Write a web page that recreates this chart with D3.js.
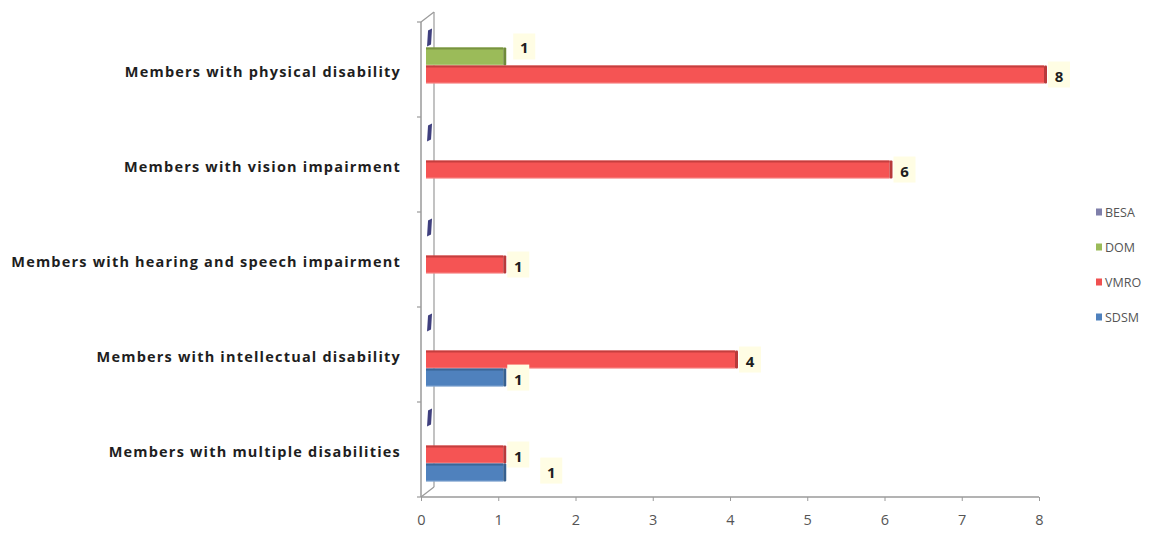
<!DOCTYPE html>
<html><head><meta charset="utf-8">
<script src="https://cdn.jsdelivr.net/npm/d3@7"></script>
<style>body{margin:0;background:#fff}svg{display:block}</style>
</head><body>
<svg id="c" width="1169" height="533"></svg>
<script>
const categories = ["Members with physical disability","Members with vision impairment","Members with hearing and speech impairment","Members with intellectual disability","Members with multiple disabilities"];
const seriesNames = ["BESA","DOM","VMRO","SDSM"];
const besaValues = [0,0,0,0,0];
const domValues  = [1,0,0,0,0];
const vmroValues = [8,6,1,4,1];
const sdsmValues = [0,0,0,1,1];
const xTickValues = [0,1,2,3,4,5,6,7,8];

const seriesValues = [besaValues, domValues, vmroValues, sdsmValues];
const colors = {BESA:"#3f3f7e", DOM:"#9bbb59", VMRO:"#f55454", SDSM:"#4f81bd"};
const dark   = {BESA:"#2c2c5c", DOM:"#6f8a3a", VMRO:"#b83a3a", SDSM:"#36608f"};
const legendColors = {BESA:"#7f7faa", DOM:"#9bbb59", VMRO:"#f05050", SDSM:"#4f81bd"};

const svg = d3.select("#c");
svg.append("rect").attr("width",1169).attr("height",533).attr("fill","#fff");

const x = d3.scaleLinear().domain([0,8]).range([421,1039]);
const y = d3.scaleBand().domain(categories).range([22,497]).paddingInner(0.24).paddingOuter(0.12);
const ys = d3.scaleBand().domain(seriesNames).range([0,y.bandwidth()]);
const DX = 13, DY = -10; // 3D depth
const bx = 5, by = -4;   // bar depth offset

// walls / axes
const g = svg.append("g");
const axisColor = "#9a9a9a";
g.append("line").attr("x1",x(0)).attr("x2",x(0)).attr("y1",22).attr("y2",497).attr("stroke",axisColor).attr("stroke-width",1.5);
g.append("line").attr("x1",x(0)+DX).attr("x2",x(0)+DX).attr("y1",22+DY).attr("y2",497+DY).attr("stroke",axisColor).attr("stroke-width",1.2);
g.append("line").attr("x1",x(0)).attr("x2",x(0)+DX).attr("y1",22).attr("y2",22+DY).attr("stroke",axisColor).attr("stroke-width",1.2);
g.append("line").attr("x1",x(0)).attr("x2",x(0)+DX).attr("y1",497).attr("y2",497+DY).attr("stroke",axisColor).attr("stroke-width",1.2);
// category boundary ticks on left axis
const bounds = categories.map((c,i)=> 22 + i*y.step()).concat([497]);
g.selectAll(".ytk").data(bounds).join("line")
  .attr("x1",x(0)-4).attr("x2",x(0)).attr("y1",d=>d).attr("y2",d=>d)
  .attr("stroke",axisColor).attr("stroke-width",1.2);

// bottom axis
const xAxis = d3.axisBottom(x).tickValues(xTickValues).tickSize(4).tickPadding(14).tickFormat(d3.format("d"));
const ax = svg.append("g").attr("transform","translate(0,497)").call(xAxis);
ax.select(".domain").attr("stroke",axisColor).attr("stroke-width",1.5).attr("d",`M${x(0)},0H${x(8)}`);
ax.selectAll(".tick line").attr("stroke",axisColor);
ax.selectAll(".tick text").attr("fill","#555").attr("font-family","Open Sans, Liberation Sans, sans-serif").attr("font-size",14.5);

// category labels
svg.selectAll(".cat").data(categories).join("text")
  .attr("x",401).attr("y",d=>y.step()*categories.indexOf(d)+22+y.step()/2+2)
  .attr("text-anchor","end").attr("dominant-baseline","central")
  .attr("font-family","Open Sans, Liberation Sans, sans-serif").attr("font-weight","bold")
  .attr("font-size",14.5).attr("letter-spacing","1.2px").attr("fill","#1e1e1e").text(d=>d);

// bars
const bars = [];
seriesNames.forEach((s,si)=>{
  seriesValues[si].forEach((v,ci)=>{
    bars.push({series:s, cat:categories[ci], ci, value:v});
  });
});
const barG = svg.append("g");
bars.forEach(d=>{
  const top = y(d.cat) + ys(d.series) + by;
  const h = ys.bandwidth();
  const x0 = x(0) + bx;
  if (d.value === 0) {
    if (d.series === "BESA") {
      barG.append("path")
        .attr("d",`M${x0+2},${top+1}L${x0+6},${top-1}L${x0+5},${top+h-3}L${x0+1},${top+h-1}Z`)
        .attr("fill",colors.BESA);
    }
    return;
  }
  const x1 = x(d.value) + bx;
  barG.append("rect").attr("x",x0).attr("y",top).attr("width",x1-x0).attr("height",h)
    .attr("fill",colors[d.series]);
  barG.append("rect").attr("x",x0).attr("y",top).attr("width",x1-x0).attr("height",2)
    .attr("fill",dark[d.series]).attr("opacity",0.8);
  barG.append("rect").attr("x",x1).attr("y",top).attr("width",3).attr("height",h)
    .attr("fill",dark[d.series]).attr("rx",1);
  barG.append("rect").attr("x",x0).attr("y",top+h-1).attr("width",x1-x0).attr("height",1)
    .attr("fill","#ffffff").attr("opacity",0.35);
});

// data labels
const labelNudge = {"DOM-0":[6,-10], "SDSM-4":[33,-2]};
const lblG = svg.append("g");
bars.filter(d=>d.value>0).forEach(d=>{
  const nud = labelNudge[d.series+"-"+d.ci] || [0,0];
  const cx = x(d.value) + 20 + nud[0];
  const cy = y(d.cat) + ys(d.series) + by + ys.bandwidth()/2 + nud[1];
  lblG.append("rect").attr("x",cx-11).attr("y",cy-13).attr("width",22).attr("height",26)
    .attr("fill","#fffde4");
  lblG.append("text").attr("x",cx).attr("y",cy+1).attr("text-anchor","middle").attr("dominant-baseline","central")
    .attr("font-family","Open Sans, Liberation Sans, sans-serif").attr("font-weight","bold")
    .attr("font-size",15).attr("fill","#1e1e1e").text(d.value);
});

// legend
const leg = svg.append("g");
seriesNames.forEach((s,i)=>{
  const ly = 212 + i*35;
  leg.append("rect").attr("x",1096).attr("y",ly-3.5).attr("width",6).attr("height",7).attr("fill",legendColors[s]);
  leg.append("text").attr("x",1105).attr("y",ly).attr("dominant-baseline","central")
    .attr("font-family","Open Sans, Liberation Sans, sans-serif").attr("font-size",12.5).attr("fill","#555").text(s);
});
</script>
</body></html>
